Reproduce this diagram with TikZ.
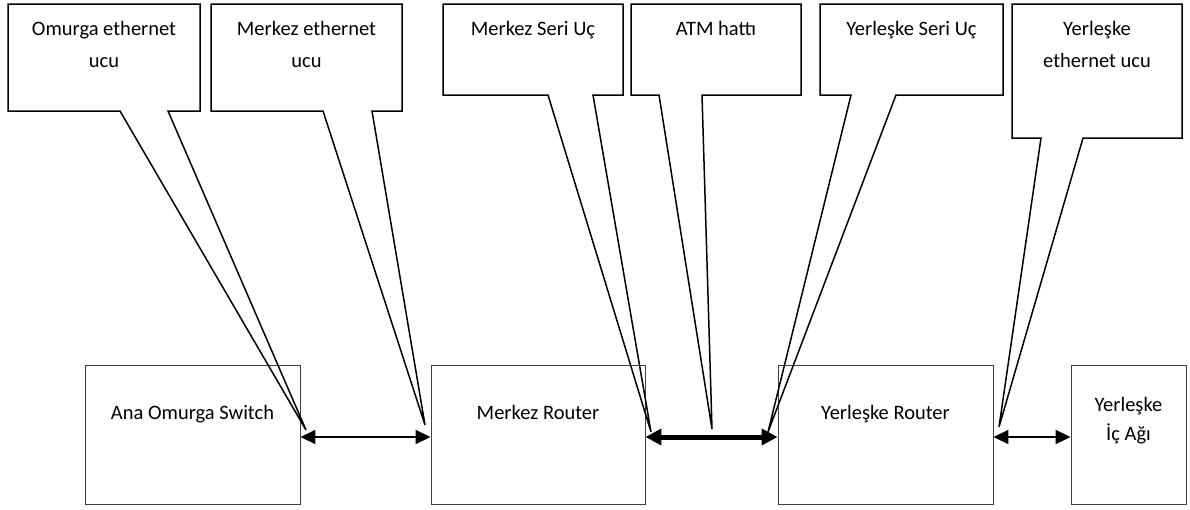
\documentclass[tikz,border=0pt]{standalone}
\usepackage{fontspec}
\setmainfont{Carlito}
\usetikzlibrary{arrows.meta}
\begin{document}
\begin{tikzpicture}[x=1pt,y=-1pt,
  box/.style={draw=black!75, line width=0.9pt, minimum width=#1, minimum height=139pt, inner sep=0pt},
  callout/.style={draw=black, line width=1.5pt, line join=miter},
  ctext/.style={anchor=north, inner sep=0pt, align=center, font=\fontsize{20.5}{32}\selectfont},
  btext/.style={inner sep=0pt, align=center, font=\fontsize{20.5}{29}\selectfont},
  thinarrow/.style={line width=1.8pt, {Triangle[length=15pt,width=14pt]}-{Triangle[length=15pt,width=14pt]}},
  thickarrow/.style={line width=5pt, {Triangle[length=16pt,width=16pt]}-{Triangle[length=16pt,width=16pt]}}
]
\useasboundingbox (0,0) rectangle (1190,509);

% bottom boxes
\node[box=215pt] (sw) at (192.5,434.5) {};
\node[box=214pt] (mr) at (538,434.5) {};
\node[box=215pt] (yr) at (885.5,434.5) {};
\node[box=115pt] (ia) at (1128.5,434.5) {};

\node[btext, anchor=base] (swt) at (192.5,419) {Ana Omurga Switch};
\node[btext, anchor=base] (mrt) at (538,419) {Merkez Router};
\node[btext, anchor=base] (yrt) at (885.5,419) {Yerleşke Router};
\node[btext, anchor=north] (iat) at (1128.5,390.7) {\strut Yerleşke\\\strut İç Ağı};

% connectors
\draw[thinarrow] ([yshift=-2.5pt]sw.east) -- ([yshift=-2.5pt]mr.west);
\draw[thickarrow] ([yshift=-2.5pt]mr.east) -- ([yshift=-2.5pt]yr.west);
\draw[thinarrow] ([yshift=-2.5pt]yr.east) -- ([yshift=-2.5pt]ia.west);

% callout tips
\coordinate (t1) at (306,430);
\coordinate (t2) at (425,425);
\coordinate (t3) at (651,432);
\coordinate (t4) at (712,429);
\coordinate (t5) at (768,432);
\coordinate (t6) at (999,427);

% callouts
\draw[callout] (8,4) -- (200,4) -- (200,111) -- (168,111) -- (t1) -- (120,111) -- (8,111) -- cycle;
\node[ctext] (c1) at (104,12.6) {\strut Omurga ethernet\\\strut ucu};

\draw[callout] (211,4) -- (402,4) -- (402,111) -- (372,111) -- (t2) -- (323,111) -- (211,111) -- cycle;
\node[ctext] (c2) at (306.5,12.6) {\strut Merkez ethernet\\\strut ucu};

\draw[callout] (443,4) -- (623,4) -- (623,95) -- (593,95) -- (t3) -- (548,95) -- (443,95) -- cycle;
\node[ctext] (c3) at (533,12.6) {\strut Merkez Seri Uç};

\draw[callout] (631,4) -- (801,4) -- (801,95) -- (702,95) -- (t4) -- (659,95) -- (631,95) -- cycle;
\node[ctext] (c4) at (716,12.6) {\strut ATM hattı};

\draw[callout] (820,4) -- (1003,4) -- (1003,95) -- (896,95) -- (t5) -- (851,95) -- (820,95) -- cycle;
\node[ctext] (c5) at (911.5,12.6) {\strut Yerleşke Seri Uç};

\draw[callout] (1012,4) -- (1182,4) -- (1182,138) -- (1083,138) -- (t6) -- (1041,138) -- (1012,138) -- cycle;
\node[ctext] (c6) at (1097,12.6) {\strut Yerleşke\\\strut ethernet ucu};
\end{tikzpicture}
\end{document}
